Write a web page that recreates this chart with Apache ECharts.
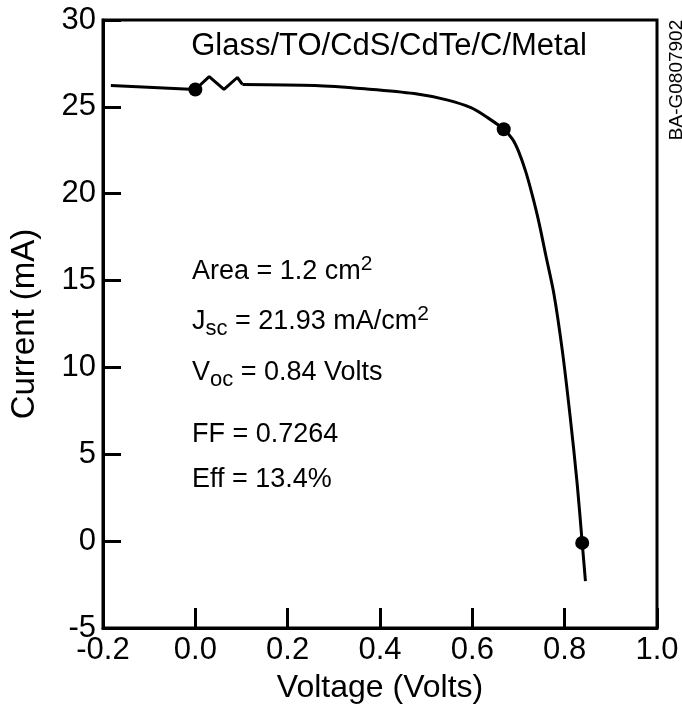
<!DOCTYPE html>
<html>
<head>
<meta charset="utf-8">
<script src="https://cdn.jsdelivr.net/npm/echarts@6/dist/echarts.min.js"></script>
<style>
  html, body { margin: 0; padding: 0; background: #fff; }
  #main { width: 682px; height: 709px; }
</style>
</head>
<body>
<div id="main"></div>
<script>
// lead-in segment incl. the little resistor zigzag
var leadV = [-0.183, 0.0, 0.030, 0.062, 0.091, 0.102];
var leadI = [26.23, 26.0, 26.74, 26.0, 26.69, 26.29];
// I-V curve after the zigzag
var curveV = [0.102, 0.259, 0.367, 0.474, 0.547, 0.597, 0.633, 0.668, 0.687, 0.701, 0.716, 0.730, 0.744, 0.759, 0.777, 0.795, 0.812, 0.827, 0.838, 0.845];
var curveI = [26.29, 26.23, 26.04, 25.77, 25.39, 24.95, 24.38, 23.71, 23.14, 22.38, 21.24, 19.90, 18.38, 16.47, 14.19, 10.95, 7.14, 3.33, -0.10, -2.3];
// filled dots
var dotV = [0.0, 0.668, 0.838];
var dotI = [26.0, 23.71, -0.10];

var xTicks = { min: -0.2, max: 1.0, step: 0.2 };
var yTicks = { min: -5, max: 30, step: 5 };

function pairs(xs, ys) {
    return xs.map(function (x, i) { return [x, ys[i]]; });
}

var FONT = '"Liberation Sans", Arial, Helvetica, sans-serif';

var chart = echarts.init(document.getElementById('main'), null, { renderer: 'canvas' });

chart.setOption({
    animation: false,
    backgroundColor: '#fff',
    grid: {
        left: 100, right: 25, top: 20, bottom: 77,
        show: true, borderColor: '#000', borderWidth: 3
    },
    xAxis: {
        type: 'value',
        min: xTicks.min, max: xTicks.max, interval: xTicks.step,
        name: 'Voltage (Volts)',
        nameLocation: 'middle',
        nameGap: 44,
        nameTextStyle: { fontFamily: FONT, fontSize: 32, color: '#000' },
        axisLine: { onZero: false, lineStyle: { color: '#000', width: 3 } },
        axisTick: { inside: true, length: 20, lineStyle: { color: '#000', width: 3 } },
        axisLabel: {
            fontFamily: FONT, fontSize: 31, color: '#000', margin: 7,
            formatter: function (v) { return v.toFixed(1); }
        },
        splitLine: { show: false }
    },
    yAxis: {
        type: 'value',
        min: yTicks.min, max: yTicks.max, interval: yTicks.step,
        name: 'Current (mA)',
        nameLocation: 'middle',
        nameGap: 62,
        nameTextStyle: { fontFamily: FONT, fontSize: 33, color: '#000' },
        axisLine: { onZero: false, lineStyle: { color: '#000', width: 3 } },
        axisTick: { inside: true, length: 18, lineStyle: { color: '#000', width: 3 } },
        axisLabel: { fontFamily: FONT, fontSize: 31, color: '#000', margin: 7 },
        splitLine: { show: false }
    },
    series: [{
        type: 'line',
        data: pairs(leadV, leadI),
        showSymbol: false,
        lineStyle: { color: '#000', width: 3 },
        z: 3
    }, {
        type: 'line',
        data: pairs(curveV, curveI),
        smooth: 0.3,
        showSymbol: false,
        lineStyle: { color: '#000', width: 3 },
        z: 3
    }, {
        type: 'scatter',
        data: pairs(dotV, dotI),
        symbolSize: 14,
        itemStyle: { color: '#000', opacity: 1 },
        z: 4
    }],
    graphic: [{
        type: 'text', x: 389, y: 46,
        style: {
            text: 'Glass/TO/CdS/CdTe/C/Metal', fill: '#000',
            font: '31px ' + FONT, align: 'center', verticalAlign: 'middle'
        }
    }, {
        type: 'text', x: 677, y: 80, rotation: Math.PI / 2,
        style: {
            text: 'BA-G0807902', fill: '#000',
            font: '19px ' + FONT, align: 'center', verticalAlign: 'middle'
        }
    }, {
        type: 'text', x: 192, y: 272,
        style: {
            text: 'Area = 1.2 cm{sup|2}', fill: '#000', fontFamily: FONT, fontSize: 27, lineHeight: 36,
            align: 'left', verticalAlign: 'middle',
            rich: { sup: { fontFamily: FONT, fontSize: 21, lineHeight: 21, verticalAlign: 'top' } }
        }
    }, {
        type: 'text', x: 192, y: 322,
        style: {
            text: 'J{sub|sc} = 21.93 mA/cm{sup|2}', fill: '#000', fontFamily: FONT, fontSize: 27, lineHeight: 36,
            align: 'left', verticalAlign: 'middle',
            rich: {
                sub: { fontFamily: FONT, fontSize: 22, lineHeight: 22, verticalAlign: 'bottom' },
                sup: { fontFamily: FONT, fontSize: 21, lineHeight: 21, verticalAlign: 'top' }
            }
        }
    }, {
        type: 'text', x: 192, y: 373,
        style: {
            text: 'V{sub|oc} = 0.84 Volts', fill: '#000', fontFamily: FONT, fontSize: 27, lineHeight: 36,
            align: 'left', verticalAlign: 'middle',
            rich: { sub: { fontFamily: FONT, fontSize: 22, lineHeight: 22, verticalAlign: 'bottom' } }
        }
    }, {
        type: 'text', x: 192, y: 435,
        style: {
            text: 'FF = 0.7264', fill: '#000', fontFamily: FONT, fontSize: 27,
            align: 'left', verticalAlign: 'middle'
        }
    }, {
        type: 'text', x: 192, y: 480,
        style: {
            text: 'Eff = 13.4%', fill: '#000', fontFamily: FONT, fontSize: 27,
            align: 'left', verticalAlign: 'middle'
        }
    }]
});
</script>
</body>
</html>
